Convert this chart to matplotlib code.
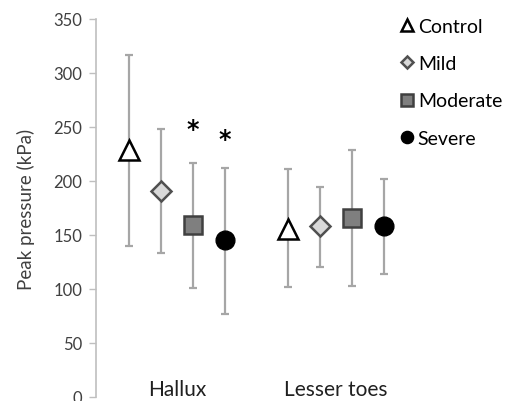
import matplotlib.pyplot as plt
import numpy as np

plt.rcParams['font.family'] = ['Lato', 'DejaVu Sans']

# data
categories = ["Hallux", "Lesser toes"]
groups = ["Control", "Mild", "Moderate", "Severe"]
means = {
    "Control": [229, 156],
    "Mild": [191, 158],
    "Moderate": [159, 166],
    "Severe": [145, 158],
}
upper = {
    "Control": [317, 211],
    "Mild": [248, 194],
    "Moderate": [217, 229],
    "Severe": [212, 202],
}
lower = {
    "Control": [140, 102],
    "Mild": [133, 120],
    "Moderate": [101, 103],
    "Severe": [77, 114],
}
# significance markers (group, category index, height)
stars = [("Moderate", 0, 248), ("Severe", 0, 239)]

styles = {
    "Control": dict(marker="^", ms=14, mfc="white", mec="black", mew=1.8),
    "Mild": dict(marker="D", ms=10, mfc="#d9d9d9", mec="#505050", mew=1.8),
    "Moderate": dict(marker="s", ms=12.5, mfc="#7f7f7f", mec="#404040", mew=1.8),
    "Severe": dict(marker="o", ms=13.5, mfc="black", mec="black", mew=1),
}

fig = plt.figure(figsize=(5.12, 4.02), dpi=100)
ax = fig.add_axes([96 / 512, 4 / 402, 410 / 512, 378 / 402])

x = np.arange(len(categories))
w = 0.2
for i, g in enumerate(groups):
    xs = x + (i - 1.5) * w
    m = np.array(means[g])
    yerr = [m - np.array(lower[g]), np.array(upper[g]) - m]
    ax.errorbar(xs, m, yerr=yerr, fmt="none", ecolor="#a6a6a6",
                elinewidth=1.6, capsize=3, capthick=1.6, zorder=1)
    ax.plot(xs, m, linestyle="none", label=g, zorder=3, **styles[g])

for g, ci, h in stars:
    xi = x[ci] + (groups.index(g) - 1.5) * w
    ax.text(xi, h, "*", ha="center", va="center", fontsize=17,
            fontweight="bold", family="DejaVu Sans")

ax.set_ylim(0, 350)
ax.set_xlim((96 - 177) / 159, (506 - 177) / 159)
ax.set_yticks(np.arange(0, 351, 50))
ax.tick_params(axis="y", labelsize=12, colors="#404040", length=5,
               width=1, direction="out", pad=5)
ax.tick_params(axis="y", color="#bfbfbf")
ax.set_xticks([])
for s in ["top", "right", "bottom"]:
    ax.spines[s].set_visible(False)
ax.spines["left"].set_color("#bfbfbf")
ax.spines["left"].set_linewidth(1.2)
ax.set_ylabel("Peak pressure (kPa)", fontsize=13.5, color="#404040", labelpad=13)

for xi, c in zip(x, categories):
    ax.text(xi, 7, c, ha="center", va="center", fontsize=15, color="#202020")

leg = ax.legend(loc="upper left", bbox_to_anchor=(0.69, 1.05), frameon=False,
                fontsize=14, markerscale=0.65, labelspacing=1.05,
                handletextpad=0.0, handlelength=1.1, numpoints=1)

fig.savefig("out.png", dpi=100)
